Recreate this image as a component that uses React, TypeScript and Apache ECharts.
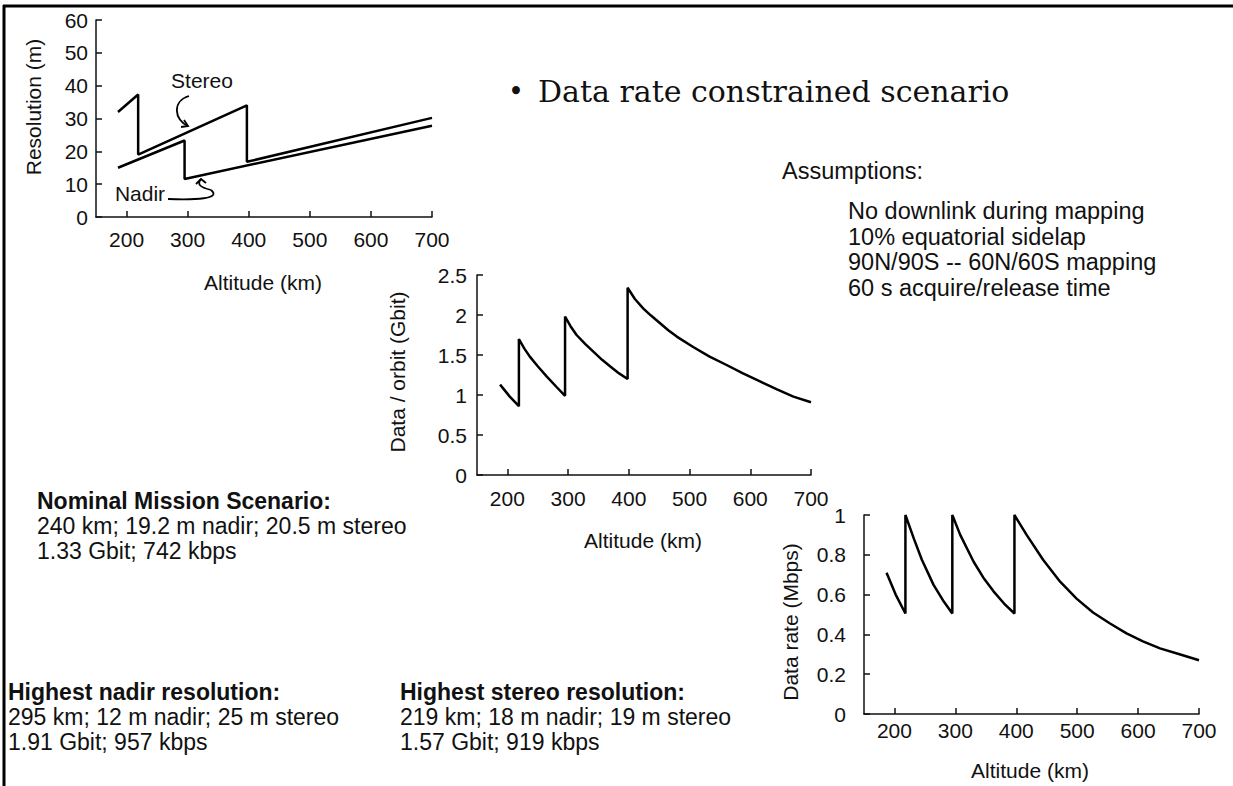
import React, { useEffect, useRef } from "react";
import * as echarts from "echarts";

// ---------- data ----------
const xTicks = [200, 300, 400, 500, 600, 700];

// Chart 1: Resolution (m) vs Altitude (km)
const stereoAlt = [186, 219, 219, 397, 397, 700];
const stereoRes = [32, 37.3, 19, 34, 16.8, 30.2];
const nadirAlt = [186, 295, 295, 700];
const nadirRes = [15, 23.3, 11.6, 27.8];

// Chart 2: Data / orbit (Gbit) vs Altitude (km)
const orbitAlt = [188, 204, 219, 219, 228, 237, 250, 265, 281, 295, 295, 304, 314, 328, 342, 356, 369, 384, 398, 398, 410, 424, 437, 451, 465, 479, 506, 533, 561, 588, 616, 644, 671, 700];
const orbitGbit = [1.13, 0.98, 0.86, 1.70, 1.58, 1.48, 1.36, 1.23, 1.10, 0.99, 1.98, 1.86, 1.75, 1.64, 1.54, 1.44, 1.36, 1.27, 1.20, 2.34, 2.20, 2.08, 1.99, 1.90, 1.81, 1.73, 1.60, 1.48, 1.375, 1.27, 1.17, 1.07, 0.98, 0.91];

// Chart 3: Data rate (Mbps) vs Altitude (km)
const rateAlt = [187, 202, 218, 218, 232, 245, 264, 281, 295, 295, 308, 330, 346, 363, 380, 397, 397, 417, 444, 472, 499, 526, 554, 581, 608, 636, 668, 700];
const rateMbps = [0.71, 0.6, 0.505, 1.0, 0.88, 0.775, 0.65, 0.565, 0.505, 1.0, 0.9, 0.765, 0.685, 0.615, 0.555, 0.505, 1.0, 0.9, 0.775, 0.665, 0.58, 0.51, 0.455, 0.405, 0.365, 0.33, 0.3, 0.27];

// ---------- texts ----------
const titleText = "Data rate constrained scenario";
const assumptionsTitle = "Assumptions:";
const assumptionLines = [
  "No downlink during mapping",
  "10% equatorial sidelap",
  "90N/90S -- 60N/60S mapping",
  "60 s acquire/release time",
];
const nominalLines = [
  "Nominal Mission Scenario:",
  "240 km; 19.2 m nadir; 20.5 m stereo",
  "1.33 Gbit; 742 kbps",
];
const nadirBestLines = [
  "Highest nadir resolution:",
  "295 km; 12 m nadir; 25 m stereo",
  "1.91 Gbit; 957 kbps",
];
const stereoBestLines = [
  "Highest stereo resolution:",
  "219 km; 18 m nadir; 19 m stereo",
  "1.57 Gbit; 919 kbps",
];

const SANS = "'Liberation Sans', Arial, sans-serif";
const SERIF = "'DejaVu Serif', serif";
const INK = "#111";
const TICK_FS = 21;
const NAME_FS = 21;
const BODY_FS = 23;
const BODY_PITCH = 25;

function zip(a: number[], b: number[]) {
  return a.map((v, i) => [v, b[i]]);
}

function makeX(gridIndex: number, margin: number) {
  return {
    type: "value",
    gridIndex,
    min: 150,
    max: 700,
    axisLine: { show: true, onZero: false, lineStyle: { color: INK, width: 1.5 } },
    axisTick: { show: true, inside: true, length: 6, customValues: xTicks, lineStyle: { color: INK, width: 1.5 } },
    axisLabel: { customValues: xTicks, margin, fontFamily: SANS, fontSize: TICK_FS, color: INK },
    splitLine: { show: false },
  };
}

function makeY(gridIndex: number, max: number, interval: number, margin: number) {
  return {
    type: "value",
    gridIndex,
    min: 0,
    max,
    interval,
    axisLine: { show: true, lineStyle: { color: INK, width: 1.5 } },
    axisTick: { show: true, inside: true, length: 6, lineStyle: { color: INK, width: 1.5 } },
    axisLabel: { margin, fontFamily: SANS, fontSize: TICK_FS, color: INK },
    splitLine: { show: false },
  };
}

function txt(text: string, x: number, y: number, size: number, opts: any = {}) {
  return {
    type: "text",
    x,
    y,
    rotation: opts.rotation || 0,
    style: {
      text,
      fontFamily: opts.family || SANS,
      fontSize: size,
      fontWeight: opts.bold ? "bold" : "normal",
      fill: INK,
      align: opts.align || "left",
      verticalAlign: "middle",
    },
  };
}

function lineSeries(xi: number, data: number[][]) {
  return {
    type: "line",
    xAxisIndex: xi,
    yAxisIndex: xi,
    data,
    symbol: "none",
    smooth: false,
    lineStyle: { color: "#000", width: 2.5 },
  };
}

export default function App() {
  const ref = useRef<HTMLDivElement>(null);

  useEffect(() => {
    if (!ref.current) return;
    const chart = echarts.init(ref.current, null, { renderer: "svg" });

    const graphic: any[] = [];
    // page border
    graphic.push({ type: "line", shape: { x1: 3, y1: 6, x2: 1233, y2: 6 }, style: { stroke: "#000", lineWidth: 3 } });
    graphic.push({ type: "line", shape: { x1: 4, y1: 5, x2: 4, y2: 786 }, style: { stroke: "#000", lineWidth: 3 } });

    // title
    graphic.push(txt("\u2022", 516, 91, 27, { family: SERIF, align: "center" }));
    graphic.push(txt(titleText, 538, 91, 30, { family: SERIF }));

    // assumptions
    graphic.push(txt(assumptionsTitle, 782, 171, 23.5));
    assumptionLines.forEach((l, i) => graphic.push(txt(l, 848, 211 + i * 25.5, 23.5)));

    // scenario blocks
    nominalLines.forEach((l, i) => graphic.push(txt(l, 37, 501 + i * BODY_PITCH, BODY_FS, { bold: i === 0 })));
    nadirBestLines.forEach((l, i) => graphic.push(txt(l, 8, 692 + i * BODY_PITCH, BODY_FS, { bold: i === 0 })));
    stereoBestLines.forEach((l, i) => graphic.push(txt(l, 400, 692 + i * BODY_PITCH, BODY_FS, { bold: i === 0 })));

    // axis names
    graphic.push(txt("Altitude (km)", 263, 282, NAME_FS, { align: "center" }));
    graphic.push(txt("Resolution (m)", 33, 107, NAME_FS, { align: "center", rotation: Math.PI / 2 }));
    graphic.push(txt("Altitude (km)", 643, 540, NAME_FS, { align: "center" }));
    graphic.push(txt("Data / orbit (Gbit)", 397, 372, NAME_FS, { align: "center", rotation: Math.PI / 2 }));
    graphic.push(txt("Altitude (km)", 1030, 770, NAME_FS, { align: "center" }));
    graphic.push(txt("Data rate (Mbps)", 790, 622, NAME_FS, { align: "center", rotation: Math.PI / 2 }));

    // annotations chart 1
    graphic.push(txt("Stereo", 202, 80, NAME_FS, { align: "center" }));
    graphic.push(txt("Nadir", 140, 193, NAME_FS, { align: "center" }));
    const stroke = { stroke: "#000", lineWidth: 1.8, fill: "none" };
    graphic.push({ type: "bezierCurve", shape: { x1: 189, y1: 96, cpx1: 172, cpy1: 101, cpx2: 174, cpy2: 120, x2: 188, y2: 126 }, style: stroke });
    graphic.push({ type: "polyline", shape: { points: [[181, 127], [188, 126], [184, 120]] }, style: stroke });
    graphic.push({ type: "bezierCurve", shape: { x1: 168, y1: 199, cpx1: 195, cpy1: 200, cpx2: 222, cpy2: 199, x2: 211, y2: 190 }, style: stroke });
    graphic.push({ type: "bezierCurve", shape: { x1: 211, y1: 190, cpx1: 199, cpy1: 187, cpx2: 197, cpy2: 184, x2: 201, y2: 179 }, style: stroke });
    graphic.push({ type: "polyline", shape: { points: [[196, 184], [201, 179], [206, 183]] }, style: stroke });

    chart.setOption({
      animation: false,
      backgroundColor: "#fff",
      grid: [
        { left: 96, top: 20, width: 336, height: 197 },
        { left: 477, top: 275, width: 334, height: 200 },
        { left: 864, top: 515, width: 335, height: 199 },
      ],
      xAxis: [makeX(0, 12), makeX(1, 13), makeX(2, 6)],
      yAxis: [makeY(0, 60, 10, 8), makeY(1, 2.5, 0.5, 10), makeY(2, 1, 0.2, 18)],
      series: [
        lineSeries(0, zip(stereoAlt, stereoRes)),
        lineSeries(0, zip(nadirAlt, nadirRes)),
        lineSeries(1, zip(orbitAlt, orbitGbit)),
        lineSeries(2, zip(rateAlt, rateMbps)),
      ],
      graphic,
    });

    return () => chart.dispose();
  }, []);

  return (
    <div
      ref={ref}
      style={{ position: "absolute", left: 0, top: 0, width: 1233, height: 786, background: "#fff" }}
    />
  );
}
